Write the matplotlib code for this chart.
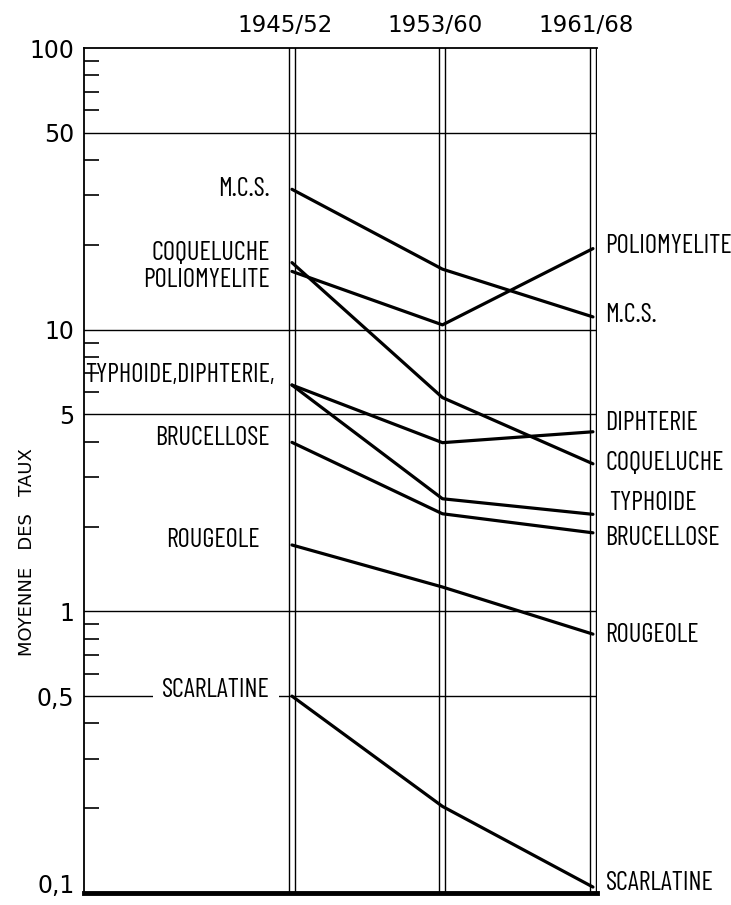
import matplotlib
matplotlib.use('Agg')
import matplotlib.pyplot as plt
from matplotlib.ticker import FixedLocator, FixedFormatter, NullFormatter
from matplotlib.transforms import ScaledTranslation

# ---------------- data ----------------
periods = ['1945/52', '1953/60', '1961/68']
mcs = [31.5, 16.4, 11.1]
coqueluche = [17.3, 5.74, 3.34]
poliomyelite = [16.1, 10.4, 19.4]
typhoide = [6.36, 2.51, 2.21]
diphterie = [6.36, 3.97, 4.34]
brucellose = [3.98, 2.22, 1.90]
rougeole = [1.72, 1.22, 0.83]
scarlatine = [0.50, 0.203, 0.105]

series_names = ['M.C.S.', 'COQUELUCHE', 'POLIOMYELITE', 'TYPHOIDE', 'DIPHTERIE',
                'BRUCELLOSE', 'ROUGEOLE', 'SCARLATINE']
left_labels = ['M.C.S.', 'COQUELUCHE', 'POLIOMYELITE', 'TYPHOIDE,DIPHTERIE,', None,
               'BRUCELLOSE', 'ROUGEOLE', 'SCARLATINE']
ytick_values = [100, 50, 10, 5, 1, 0.5, 0.1]
ytick_labels = ['100', '50', '10', '5', '1', '0,5', '0,1']
grid_values = [50, 10, 5, 1, 0.5]
y_label = 'MOYENNE   DES   TAUX'

series = [mcs, coqueluche, poliomyelite, typhoide, diphterie, brucellose, rougeole, scarlatine]

# label offsets (points): left (dx, dy), right (dx, dy)
left_off = [(-16, 0), (-16, 7), (-16, -6), (-12.5, 7), None, (-16, 3), (-23, 3.6), (-16, 4.3)]
right_off = [(9, 1.4), (9, 0.7), (9, 2), (12, 8), (9, 6.5), (9, -3.6), (9, -0.7), (9, 3)]

# ---------------- figure ----------------
W, H = 731, 905
fig = plt.figure(figsize=(W / 100, H / 100), dpi=100)
ax = fig.add_axes([84 / W, 12 / H, 513 / W, 845 / H])
ax.set_yscale('log')
ax.set_ylim(0.1, 100)
ax.set_xlim(-1.382, 2.027)

label_font = ['Barlow Condensed', 'Roboto Condensed', 'DejaVu Sans']
num_font = ['DejaVu Sans']

# spines
ax.spines['right'].set_visible(False)
ax.spines['left'].set_linewidth(1.3)
ax.spines['top'].set_linewidth(1.3)
ax.spines['bottom'].set_linewidth(3.5)

# ticks
ax.set_xticks([])
ax.yaxis.set_major_locator(FixedLocator(ytick_values))
ax.yaxis.set_major_formatter(FixedFormatter(ytick_labels))
minor = [m * 10.0 ** e for e in (-1, 0, 1) for m in range(2, 10) if m != 5]
ax.yaxis.set_minor_locator(FixedLocator(minor))
ax.yaxis.set_minor_formatter(NullFormatter())
ax.tick_params(axis='y', which='major', length=0, pad=7, labelsize=17)
ax.tick_params(axis='y', which='minor', direction='in', length=11, width=1.2)
fig.canvas.draw()
for lab in ax.get_yticklabels():
    lab.set_family(num_font)
    if lab.get_text() == '0,1':
        lab.set_transform(lab.get_transform() + ScaledTranslation(0, 7 / 72, fig.dpi_scale_trans))

# gridlines
for g in grid_values:
    ax.axhline(g, color='black', lw=1.0, zorder=1)

# double vertical lines at each period
xs = list(range(len(periods)))
for x in xs:
    for d in (-0.02, 0.02):
        ax.axvline(x + d, color='black', lw=1.0, zorder=1)

# data lines
for vals in series:
    ax.plot(xs, vals, color='black', lw=2.3, zorder=3, solid_capstyle='round')

# period labels on top
for x, p in zip(xs, periods):
    ax.annotate(p, (x, 100), xytext=(-5, 16), textcoords='offset points',
                ha='center', va='center', fontsize=16.5, family=num_font,
                annotation_clip=False)

# left labels
for name, vals, off in zip(left_labels, series, left_off):
    if name is None:
        continue
    kw = {}
    if name == 'SCARLATINE':
        kw['bbox'] = dict(boxstyle='square,pad=0.35', fc='white', ec='none')
    ax.annotate(name, (xs[0], vals[0]), xytext=off, textcoords='offset points',
                ha='right', va='center', fontsize=19, family=label_font, zorder=4, **kw)

# right labels
for name, vals, off in zip(series_names, series, right_off):
    ax.annotate(name, (xs[-1], vals[-1]), xytext=off, textcoords='offset points',
                ha='left', va='center', fontsize=19, family=label_font,
                annotation_clip=False)

# y label
fig.text(27 / W, 1 - 552 / H, y_label, rotation=90, ha='center', va='center',
         fontsize=13, family=num_font)

fig.savefig('out.png', dpi=100)
